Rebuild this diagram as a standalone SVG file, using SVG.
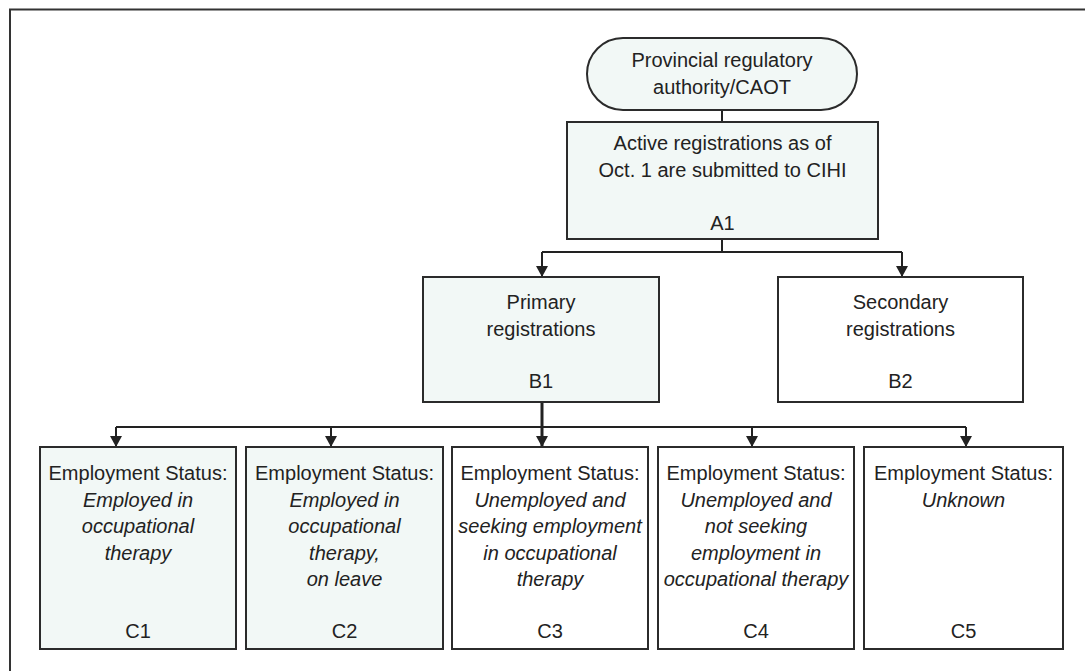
<svg xmlns="http://www.w3.org/2000/svg" width="1085" height="671" viewBox="0 0 1085 671">
<defs>
<style>
.box{fill:#f2f8f6;stroke:#2b2b2b;stroke-width:2}
.wbox{fill:#ffffff;stroke:#2b2b2b;stroke-width:2}
.t{font-family:"Liberation Sans",Arial,sans-serif;font-size:20px;fill:#222;text-anchor:middle}
.i{font-style:italic}
.c{fill:none;stroke:#222;stroke-width:2}
.frame{fill:none;stroke:#333;stroke-width:2}
</style>
<marker id="arr" viewBox="0 0 11 12" refX="11" refY="6" markerWidth="11" markerHeight="12" markerUnits="userSpaceOnUse" orient="auto">
<path d="M0,0 L11,6 L0,12 z" fill="#222"/>
</marker>
</defs>
<rect width="1085" height="671" fill="#ffffff"/>
<path class="frame" d="M10,671 L10,9.5 L1085,9.5"/>

<g id="connectors">
<path class="c" d="M722,110 L722,122"/>
<path class="c" d="M722,239 L722,252"/>
<path class="c" d="M542,252 L902,252"/>
<path class="c" d="M542,252 L542,277" marker-end="url(#arr)"/>
<path class="c" d="M902,252 L902,277" marker-end="url(#arr)"/>
<path class="c" d="M542,402 L542,447" style="stroke-width:3" marker-end="url(#arr)"/>
<path class="c" d="M116,427 L966,427"/>
<path class="c" d="M116,427 L116,447" marker-end="url(#arr)"/>
<path class="c" d="M331,427 L331,447" marker-end="url(#arr)"/>
<path class="c" d="M752,427 L752,447" marker-end="url(#arr)"/>
<path class="c" d="M966,427 L966,447" marker-end="url(#arr)"/>
</g>

<g id="start">
<rect class="box" x="587" y="38" width="270" height="72" rx="36" ry="36"/>
<text class="t" x="722" y="67">Provincial regulatory</text>
<text class="t" x="722" y="94">authority/CAOT</text>
</g>

<g id="A1">
<rect class="box" x="567" y="122" width="311" height="117"/>
<text class="t" x="722.5" y="150">Active registrations as of</text>
<text class="t" x="722.5" y="177">Oct. 1 are submitted to CIHI</text>
<text class="t" x="722.5" y="230">A1</text>
</g>

<g id="B1">
<rect class="box" x="423" y="277" width="236" height="125"/>
<text class="t" x="541" y="309">Primary</text>
<text class="t" x="541" y="336">registrations</text>
<text class="t" x="541" y="388">B1</text>
</g>

<g id="B2">
<rect class="wbox" x="778" y="277" width="245" height="125"/>
<text class="t" x="900.5" y="309">Secondary</text>
<text class="t" x="900.5" y="336">registrations</text>
<text class="t" x="900.5" y="388">B2</text>
</g>

<g id="C1">
<rect class="box" x="40" y="447" width="196" height="202"/>
<text class="t" x="138" y="480">Employment Status:</text>
<text class="t i" x="138" y="507">Employed in</text>
<text class="t i" x="138" y="533">occupational</text>
<text class="t i" x="138" y="560">therapy</text>
<text class="t" x="138" y="638">C1</text>
</g>

<g id="C2">
<rect class="box" x="246" y="447" width="197" height="202"/>
<text class="t" x="344.5" y="480">Employment Status:</text>
<text class="t i" x="344.5" y="507">Employed in</text>
<text class="t i" x="344.5" y="533">occupational</text>
<text class="t i" x="344.5" y="560">therapy,</text>
<text class="t i" x="344.5" y="586">on leave</text>
<text class="t" x="344.5" y="638">C2</text>
</g>

<g id="C3">
<rect class="wbox" x="452" y="447" width="196" height="202"/>
<text class="t" x="550" y="480">Employment Status:</text>
<text class="t i" x="550" y="507">Unemployed and</text>
<text class="t i" x="550" y="533">seeking employment</text>
<text class="t i" x="550" y="560">in occupational</text>
<text class="t i" x="550" y="586">therapy</text>
<text class="t" x="550" y="638">C3</text>
</g>

<g id="C4">
<rect class="wbox" x="658" y="447" width="196" height="202"/>
<text class="t" x="756" y="480">Employment Status:</text>
<text class="t i" x="756" y="507">Unemployed and</text>
<text class="t i" x="756" y="533">not seeking</text>
<text class="t i" x="756" y="560">employment in</text>
<text class="t i" x="756" y="586">occupational therapy</text>
<text class="t" x="756" y="638">C4</text>
</g>

<g id="C5">
<rect class="wbox" x="864" y="447" width="199" height="202"/>
<text class="t" x="963.5" y="480">Employment Status:</text>
<text class="t i" x="963.5" y="507">Unknown</text>
<text class="t" x="963.5" y="638">C5</text>
</g>
</svg>
